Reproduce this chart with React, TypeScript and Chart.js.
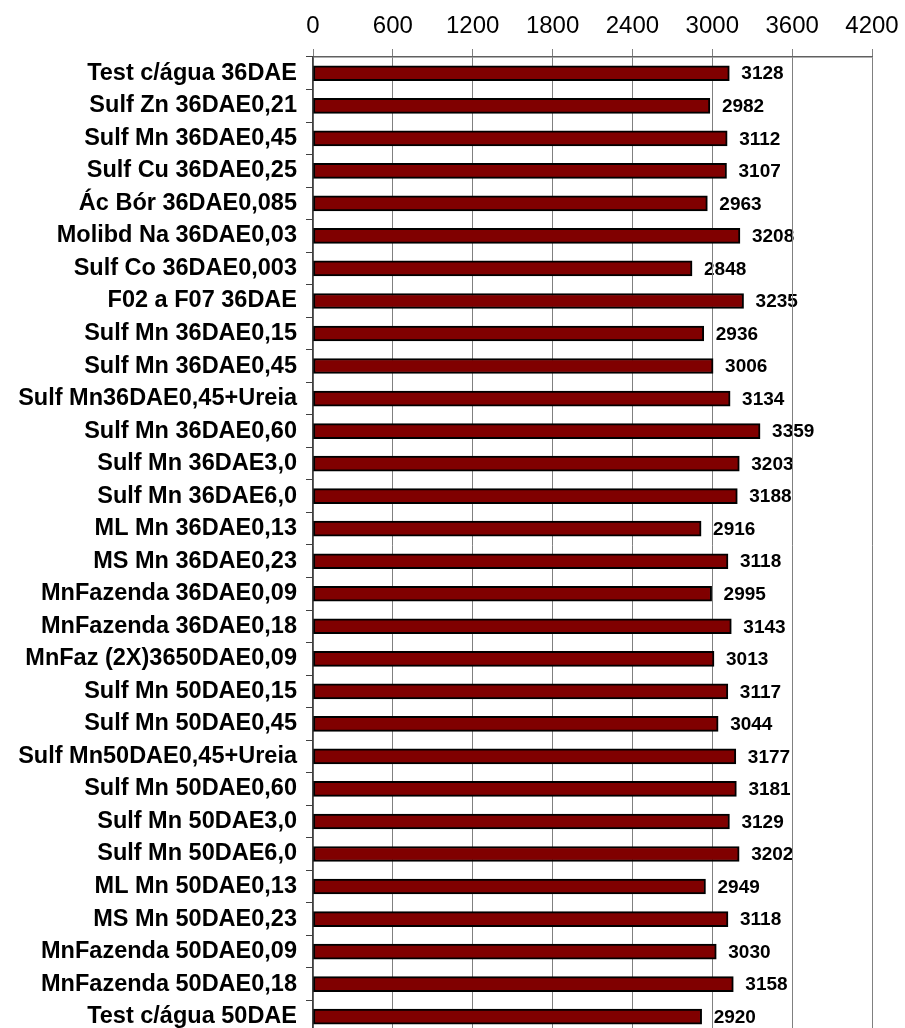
import React, { useEffect, useRef } from "react";
import { Chart, registerables } from "chart.js";

Chart.register(...registerables);

const categories: string[] = [
  "Test c/água 36DAE",
  "Sulf Zn 36DAE0,21",
  "Sulf Mn 36DAE0,45",
  "Sulf Cu 36DAE0,25",
  "Ác Bór 36DAE0,085",
  "Molibd Na 36DAE0,03",
  "Sulf Co 36DAE0,003",
  "F02 a F07 36DAE",
  "Sulf Mn 36DAE0,15",
  "Sulf Mn 36DAE0,45",
  "Sulf Mn36DAE0,45+Ureia",
  "Sulf Mn 36DAE0,60",
  "Sulf Mn 36DAE3,0",
  "Sulf Mn 36DAE6,0",
  "ML Mn 36DAE0,13",
  "MS Mn 36DAE0,23",
  "MnFazenda 36DAE0,09",
  "MnFazenda 36DAE0,18",
  "MnFaz (2X)3650DAE0,09",
  "Sulf Mn 50DAE0,15",
  "Sulf Mn 50DAE0,45",
  "Sulf Mn50DAE0,45+Ureia",
  "Sulf Mn 50DAE0,60",
  "Sulf Mn 50DAE3,0",
  "Sulf Mn 50DAE6,0",
  "ML Mn 50DAE0,13",
  "MS Mn 50DAE0,23",
  "MnFazenda 50DAE0,09",
  "MnFazenda 50DAE0,18",
  "Test c/água 50DAE",
];

const values: number[] = [
  3128, 2982, 3112, 3107, 2963, 3208, 2848, 3235, 2936, 3006,
  3134, 3359, 3203, 3188, 2916, 3118, 2995, 3143, 3013, 3117,
  3044, 3177, 3181, 3129, 3202, 2949, 3118, 3030, 3158, 2920,
];

const xMin = 0;
const xMax = 4200;
const xStep = 600;

const FONT = "'Liberation Sans', Arial, sans-serif";

const valueLabelPlugin = {
  id: "valueLabels",
  beforeDraw(chart: any) {
    const ctx = chart.ctx;
    const meta = chart.getDatasetMeta(0);
    ctx.save();
    ctx.font = `bold 19px ${FONT}`;
    ctx.fillStyle = "#000";
    ctx.textAlign = "left";
    ctx.textBaseline = "middle";
    meta.data.forEach((bar: any, i: number) => {
      ctx.fillText(String(values[i]), bar.x + 12, bar.y + 1);
    });
    ctx.restore();
  },
};

export default function App() {
  const ref = useRef<HTMLCanvasElement | null>(null);

  useEffect(() => {
    if (!ref.current) return;
    const chart = new Chart(ref.current, {
      type: "bar",
      data: {
        labels: categories,
        datasets: [
          {
            data: values,
            backgroundColor: "#800000",
            borderColor: "#000000",
            borderWidth: 2,
            borderSkipped: false,
            barThickness: 15,
          },
        ],
      },
      options: {
        indexAxis: "y",
        responsive: false,
        animation: false,
        events: [],
        layout: { padding: { left: 0, right: 33, top: 0, bottom: 12 } },
        plugins: {
          legend: { display: false },
          title: { display: false },
          tooltip: { enabled: false },
        },
        scales: {
          x: {
            position: "top",
            min: xMin,
            max: xMax,
            afterFit(scale: any) {
              scale.height = 57;
              scale.paddingRight = 0;
              scale.paddingLeft = 0;
            },
            ticks: {
              stepSize: xStep,
              autoSkip: false,
              maxRotation: 0,
              padding: 8,
              color: "#000",
              font: { family: FONT, size: 24 },
              callback: (v: any) => String(v),
            },
            grid: {
              color: "#808080",
              lineWidth: 1,
              drawTicks: true,
              tickLength: 8,
            },
            border: { display: true, color: "#606060", width: 1.5 },
          },
          y: {
            afterFit(scale: any) {
              scale.width = 313;
            },
            ticks: {
              autoSkip: false,
              padding: 9,
              color: "#000",
              font: { family: FONT, size: 23.5, weight: "bold" },
            },
            grid: {
              drawOnChartArea: false,
              drawTicks: true,
              tickLength: 7,
              color: "#404040",
              lineWidth: 1,
            },
            border: { display: true, color: "#404040", width: 1.5 },
          },
        },
      },
      plugins: [valueLabelPlugin],
    });
    return () => chart.destroy();
  }, []);

  return (
    <div
      style={{
        position: "absolute",
        left: 0,
        top: 0,
        width: 905,
        height: 1028,
        overflow: "hidden",
        background: "#fff",
      }}
    >
      <canvas ref={ref} width={905} height={1056} style={{ display: "block" }} />
    </div>
  );
}
